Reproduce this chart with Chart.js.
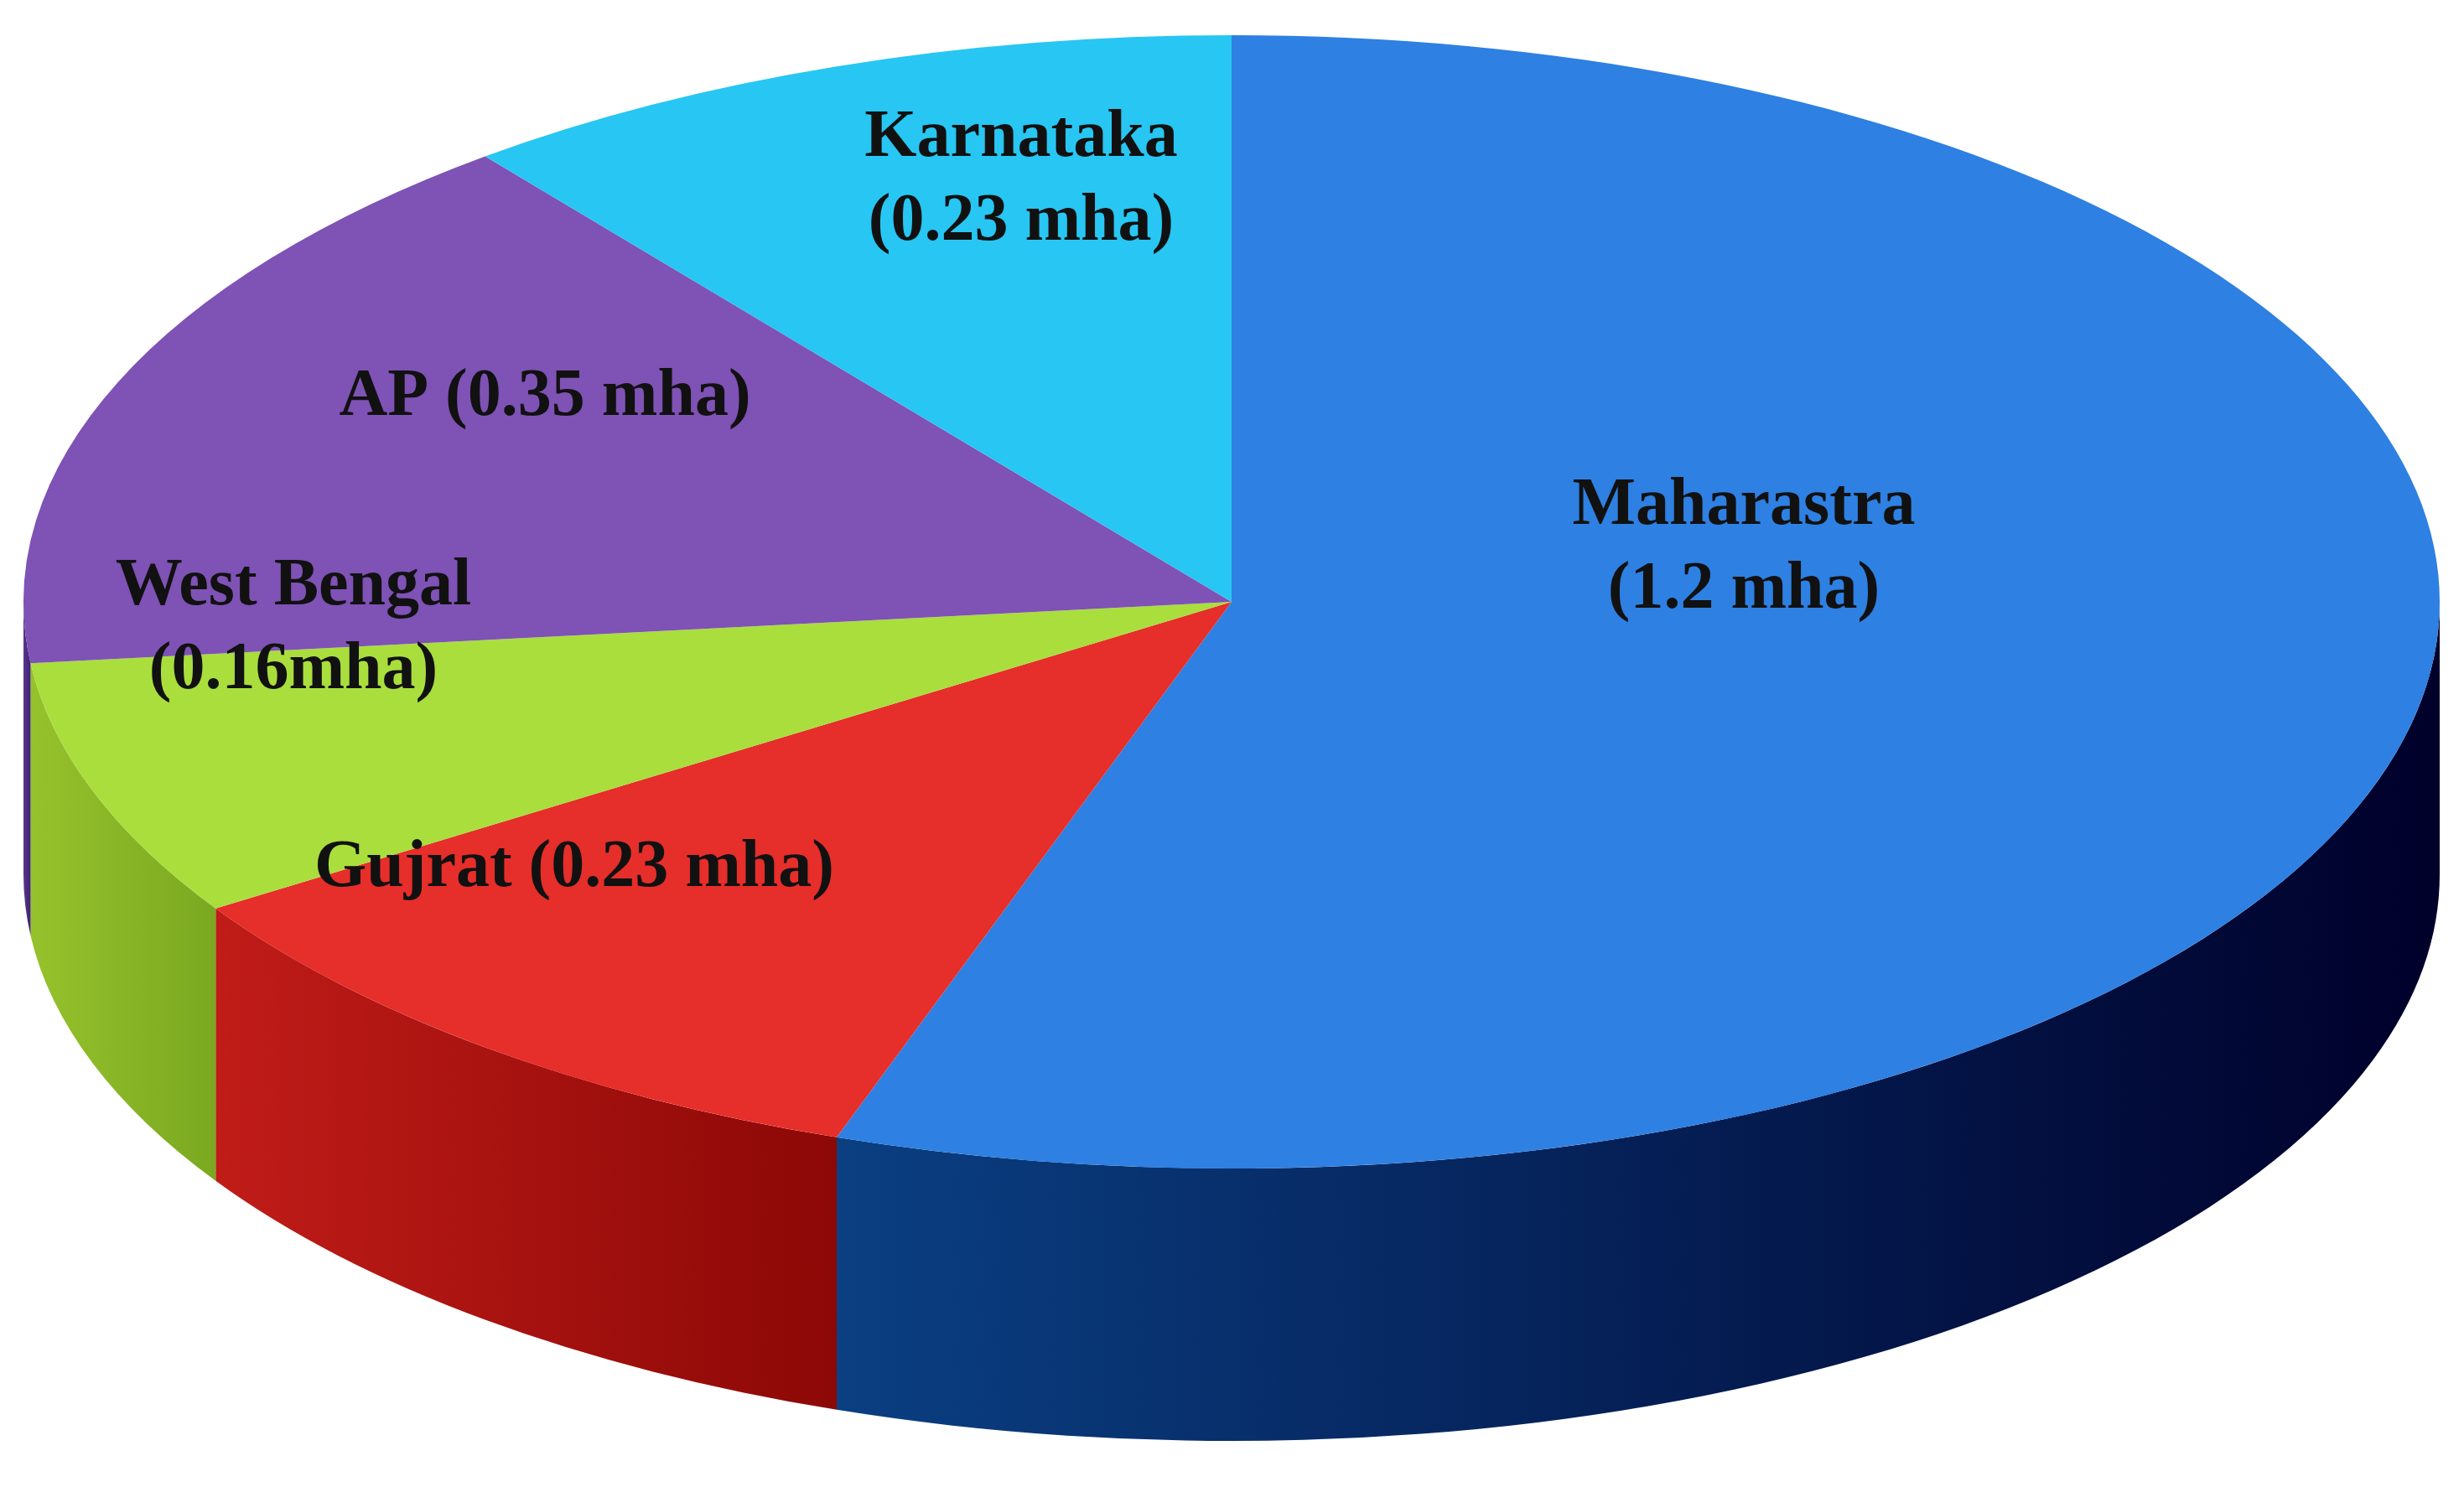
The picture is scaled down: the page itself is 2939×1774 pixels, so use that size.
<!DOCTYPE html>
<html>
<head>
<meta charset="utf-8">
<script src="https://cdn.jsdelivr.net/npm/chart.js@4"></script>
<style>
  html, body { margin: 0; padding: 0; background: #fff; }
  #wrap { width: 2939px; height: 1774px; }
</style>
</head>
<body>
<div id="wrap"><canvas id="pie"></canvas></div>
<script>
const states = ['Maharastra', 'Gujrat', 'West Bengal', 'AP', 'Karnataka'];
const areas = [1.2, 0.23, 0.16, 0.35, 0.23];
const labelLines = [
  ['Maharastra', '(1.2 mha)'],
  ['Gujrat (0.23 mha)'],
  ['West Bengal', '(0.16mha)'],
  ['AP (0.35 mha)'],
  ['Karnataka', '(0.23 mha)']
];
const topColors = ['#2e80e2', '#e62e2a', '#a9de3d', '#7f52b5', '#28c6f2'];
const sideColors = [['#0a3f82', '#00002a'], ['#c01c18', '#8c0806'], ['#96c22c', '#7aa820'], ['#5a3590', '#3f2270'], ['#1a90b8', '#106f90']];

// geometry of the tilted disc on screen
const cx = 1469, cy = 718, rx = 1441, ry = 676, depth = 325;
const labelPos = [[2080, 654], [685, 1036], [350, 750], [650, 474], [1218, 215]];

const tilt = {
  id: 'tilt',
  beforeDatasetsDraw(chart) {
    const ctx = chart.ctx;
    const arcs = chart.getDatasetMeta(0).data;
    // sides (front half only)
    arcs.forEach((a, i) => {
      const s = Math.max(a.startAngle, 0), e = Math.min(a.endAngle, Math.PI);
      if (e <= s) return;
      const x1 = cx + rx * Math.cos(e), x0 = cx + rx * Math.cos(s);
      const g = ctx.createLinearGradient(Math.min(x0, x1), 0, Math.max(x0, x1), 0);
      g.addColorStop(0, sideColors[i][0]);
      g.addColorStop(1, sideColors[i][1]);
      ctx.beginPath();
      ctx.ellipse(cx, cy, rx, ry, 0, s, e, false);
      ctx.ellipse(cx, cy + depth, rx, ry, 0, e, s, true);
      ctx.closePath();
      ctx.fillStyle = g;
      ctx.fill();
    });
    // squash the top face
    const a0 = arcs[0];
    const r = a0.outerRadius;
    ctx.save();
    ctx.translate(cx, cy);
    ctx.scale(rx / r, ry / r);
    ctx.translate(-a0.x, -a0.y);
  },
  afterDatasetsDraw(chart) {
    chart.ctx.restore();
  },
  afterDraw(chart) {
    const ctx = chart.ctx;
    ctx.save();
    ctx.fillStyle = '#111';
    ctx.font = 'bold 80px "Liberation Serif", serif';
    ctx.textAlign = 'center';
    ctx.textBaseline = 'middle';
    labelLines.forEach((lines, i) => {
      const [x, y] = labelPos[i];
      const off = (lines.length - 1) * 50;
      lines.forEach((t, k) => ctx.fillText(t, x, y - off + k * 100));
    });
    ctx.restore();
  }
};

new Chart(document.getElementById('pie'), {
  type: 'pie',
  data: {
    labels: states,
    datasets: [{ data: areas, backgroundColor: topColors, borderWidth: 0 }]
  },
  options: {
    responsive: true,
    maintainAspectRatio: false,
    animation: false,
    plugins: { legend: { display: false }, tooltip: { enabled: false } }
  },
  plugins: [tilt]
});
</script>
</body>
</html>
